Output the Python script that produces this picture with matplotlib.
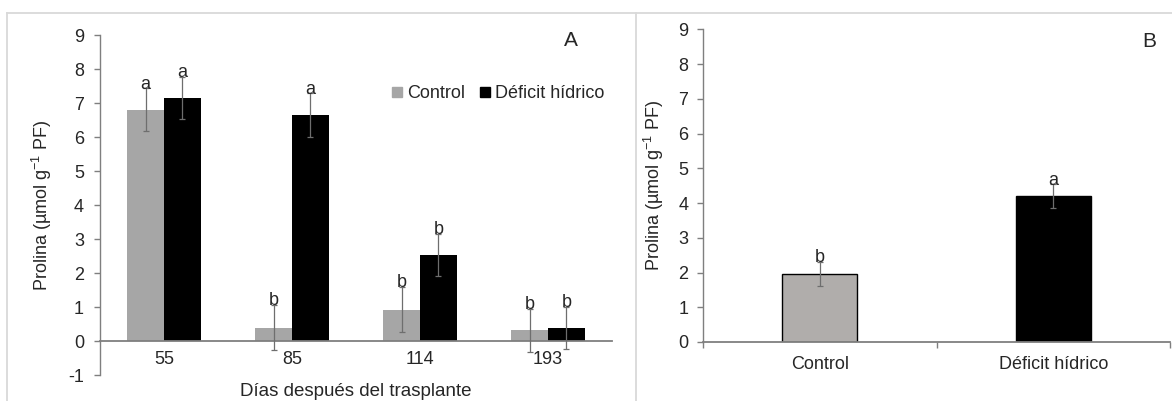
import matplotlib
matplotlib.use("Agg")
import matplotlib.pyplot as plt
from matplotlib.lines import Line2D
import numpy as np

plt.rcParams['font.family'] = ['Liberation Sans', 'DejaVu Sans']
plt.rcParams['mathtext.fontset'] = 'custom'
plt.rcParams['mathtext.rm'] = 'Liberation Sans'
plt.rcParams['mathtext.it'] = 'Liberation Sans:italic'
plt.rcParams['axes.unicode_minus'] = False

# Panel A: proline over time
days = ['55', '85', '114', '193']
control_a = [6.80, 0.39, 0.92, 0.31]
control_a_err = [0.63, 0.66, 0.66, 0.64]
deficit_a = [7.14, 6.64, 2.54, 0.39]
deficit_a_err = [0.62, 0.64, 0.62, 0.62]
letters_control_a = ['a', 'b', 'b', 'b']
letters_deficit_a = ['a', 'a', 'b', 'b']

# Panel B: overall means per treatment
treatments = ['Control', 'Déficit hídrico']
means_b = [1.96, 4.20]
err_b = [0.35, 0.34]
letters_b = ['b', 'a']

TEXT = '#262626'
AXIS = '#7f7f7f'
ERR = '#6e6e6e'
GRAY_A = '#a6a6a6'
GRAY_B = '#b0adab'
FS = 13
ylabel = r'Prolina (µmol g$^{-1}$ PF)'

fig = plt.figure(figsize=(11.72, 4.01), dpi=100)

# outer frame lines
for xs, ys in [([7/1172, 1], [1-12.5/401]*2),
               ([7/1172]*2, [0, 1-12.5/401]),
               ([636/1172]*2, [0, 1-12.5/401])]:
    fig.add_artist(Line2D(xs, ys, color='#d9d9d9', lw=1.3, transform=fig.transFigure))

# ---------- Panel A ----------
axA = fig.add_axes([100/1172, 1-375/401, 512/1172, 340/401])
x = np.arange(len(days))
w = 0.287
axA.bar(x - w/2, control_a, w, color=GRAY_A, zorder=2)
axA.bar(x + w/2, deficit_a, w, color='black', zorder=2)
axA.errorbar(x - w/2, control_a, yerr=control_a_err, fmt='none', ecolor=ERR,
             elinewidth=0.9, capsize=2.5, capthick=0.9, zorder=3)
axA.errorbar(x + w/2, deficit_a, yerr=deficit_a_err, fmt='none', ecolor=ERR,
             elinewidth=0.9, capsize=2.5, capthick=0.9, zorder=3)
for xi, v, e, t in zip(x - w/2, control_a, control_a_err, letters_control_a):
    axA.annotate(t, (xi, v + e), xytext=(0, -3), textcoords='offset points',
                 ha='center', va='bottom', fontsize=FS, color=TEXT, zorder=4)
for xi, v, e, t in zip(x + w/2, deficit_a, deficit_a_err, letters_deficit_a):
    axA.annotate(t, (xi, v + e), xytext=(0, -3), textcoords='offset points',
                 ha='center', va='bottom', fontsize=FS, color=TEXT, zorder=4)

axA.set_xlim(-0.5, 3.5)
axA.set_ylim(-1, 9)
axA.set_yticks(range(-1, 10))
axA.set_xticks(x)
axA.set_xticklabels(days)
for s in ['top', 'right']:
    axA.spines[s].set_visible(False)
axA.spines['bottom'].set_position(('data', 0))
axA.spines['bottom'].set_color(AXIS)
axA.spines['bottom'].set_linewidth(1.3)
axA.spines['left'].set_color(AXIS)
axA.spines['left'].set_linewidth(1.0)
axA.tick_params(axis='y', direction='out', length=4.5, width=1.0, color=AXIS,
                labelsize=FS, labelcolor=TEXT, pad=7)
axA.tick_params(axis='x', length=0, labelsize=FS, labelcolor=TEXT, pad=7)
axA.set_ylabel(ylabel, fontsize=FS, color=TEXT, labelpad=10)
axA.text(0.5, -0.05, 'Días después del trasplante', transform=axA.transAxes,
         ha='center', va='center', fontsize=FS + 0.5, color=TEXT)
axA.text(0.92, 0.985, 'A', transform=axA.transAxes, fontsize=15, color=TEXT,
         ha='center', va='center')
handles = [Line2D([], [], marker='s', ls='none', color=GRAY_A, markersize=7),
           Line2D([], [], marker='s', ls='none', color='black', markersize=7)]
axA.legend(handles, ['Control', 'Déficit hídrico'], ncol=2, frameon=False,
           loc='center', bbox_to_anchor=(0.777, 0.828), fontsize=FS,
           handlelength=0.6, handletextpad=0.25, columnspacing=0.8,
           labelcolor=TEXT, borderpad=0, borderaxespad=0)

# ---------- Panel B ----------
axB = fig.add_axes([703/1172, 1-342/401, 467/1172, 312.5/401])
xb = np.arange(len(treatments))
wb = 0.32
axB.bar(xb, means_b, wb, color=[GRAY_B, 'black'], edgecolor='black', lw=1.0, zorder=2)
axB.errorbar(xb, means_b, yerr=err_b, fmt='none', ecolor=ERR, elinewidth=0.9,
             capsize=2.5, capthick=0.9, zorder=3)
for xi, v, e, t in zip(xb, means_b, err_b, letters_b):
    axB.annotate(t, (xi, v + e), xytext=(0, -3), textcoords='offset points',
                 ha='center', va='bottom', fontsize=FS, color=TEXT, zorder=4)
axB.set_xlim(-0.5, 1.5)
axB.set_ylim(0, 9)
axB.set_yticks(range(0, 10))
axB.set_xticks(xb)
axB.set_xticklabels(treatments)
axB.set_xticks([-0.5, 0.5, 1.5], minor=True)
for s in ['top', 'right']:
    axB.spines[s].set_visible(False)
axB.spines['bottom'].set_color(AXIS)
axB.spines['bottom'].set_linewidth(1.3)
axB.spines['left'].set_color(AXIS)
axB.spines['left'].set_linewidth(1.0)
axB.tick_params(axis='y', direction='out', length=4.5, width=1.0, color=AXIS,
                labelsize=FS, labelcolor=TEXT, pad=6)
axB.tick_params(axis='x', which='major', length=0, labelsize=FS, labelcolor=TEXT, pad=10)
axB.tick_params(axis='x', which='minor', direction='out', length=4, width=1.0, color=AXIS)
axB.set_ylabel(ylabel, fontsize=FS, color=TEXT, labelpad=9)
axB.text(0.955, 0.962, 'B', transform=axB.transAxes, fontsize=15, color=TEXT,
         ha='center', va='center')

fig.savefig('out.png', dpi=100)
